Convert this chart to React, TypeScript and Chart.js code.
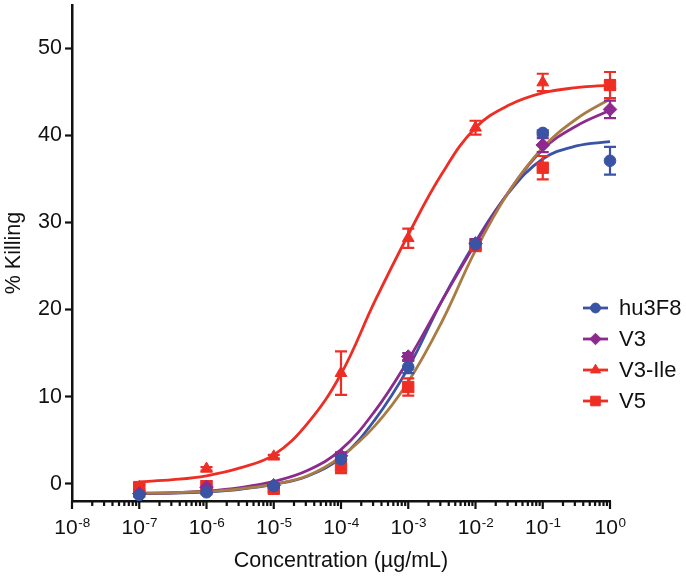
import { useEffect, useRef } from "react";
import { Chart, registerables } from "chart.js";
import { drawPoint } from "chart.js/helpers";

Chart.register(...registerables);

const FONT = '"Liberation Sans", Arial, sans-serif';
const INK = "#111";

// measured concentrations (µg/mL)
const concentrations = [1e-7, 1e-6, 1e-5, 1e-4, 1e-3, 1e-2, 1e-1, 1];

const hu3F8 = [-1.3, -1.0, -0.3, 2.8, 13.4, 27.5, 40.3, 37.1];
const hu3F8Err = [0.2, 0.2, 0.2, 0.4, 0.7, 0.5, 0.3, 1.6];
const v3 = [-1.15, -0.4, -0.2, 3.2, 14.6, 27.6, 38.9, 43.0];
const v3Err = [0.2, 0.7, 0.2, 0.4, 0.4, 0.5, 0.8, 1.0];
const v3Ile = [-0.4, 1.7, 3.1, 12.7, 28.2, 40.9, 46.1, 45.8];
const v3IleErr = [0.2, 0.2, 0.2, 2.5, 1.1, 0.8, 1.0, 0.5];
const v5 = [-0.4, -0.3, -0.6, 2.0, 11.1, 27.3, 36.3, 45.8];
const v5Err = [0.4, 0.3, 0.3, 0.8, 1.0, 0.5, 1.35, 1.5];

const fitX = [1e-7, 3.162e-7, 1e-6, 3.162e-6, 1e-5, 3.162e-5, 1e-4, 3.162e-4, 1e-3, 3.162e-3, 1e-2, 3.162e-2, 1e-1, 3.162e-1, 1];
const hu3F8Fit = [-1.15, -1.1, -0.95, -0.65, -0.1, 0.85, 3.0, 7.3, 13.3, 21.0, 27.8, 33.5, 37.3, 38.8, 39.3];
const v3Fit = [-1.1, -1.05, -0.85, -0.45, 0.25, 1.5, 3.9, 8.3, 14.2, 21.0, 27.6, 33.6, 38.4, 41.1, 42.9];
const v3IleFit = [0.2, 0.45, 0.9, 1.8, 3.3, 6.9, 12.6, 20.9, 28.6, 35.6, 40.9, 43.5, 44.9, 45.5, 45.8];
const v5Fit = [-1.1, -1.05, -0.9, -0.6, -0.05, 0.9, 3.1, 6.6, 11.7, 18.6, 26.8, 33.6, 38.6, 41.9, 44.2];

const yTicks = [0, 10, 20, 30, 40, 50];
const xDecades = [-8, -7, -6, -5, -4, -3, -2, -1, 0];

const BLUE = "#3a53a4";
const PURPLE = "#8c2a8e";
const RED = "#ee2e24";
const BROWN = "#a97c44";

const series = [
  { label: "hu3F8", color: BLUE, lineColor: BLUE, style: "circle", radius: 5.8, values: hu3F8, errors: hu3F8Err, fit: hu3F8Fit },
  { label: "V3", color: PURPLE, lineColor: PURPLE, style: "rectRot", radius: 6.8, values: v3, errors: v3Err, fit: v3Fit },
  { label: "V3-Ile", color: RED, lineColor: RED, style: "triangle", radius: 6.8, values: v3Ile, errors: v3IleErr, fit: v3IleFit },
  { label: "V5", color: RED, lineColor: BROWN, style: "rect", radius: 8, values: v5, errors: v5Err, fit: v5Fit },
];

// error bars go between the curves and the symbols
const errorBars = {
  id: "errorBars",
  afterDatasetDraw(chart: any, args: any) {
    if (args.index !== series.length) return;
    const { ctx, scales: { x, y } } = chart;
    ctx.save();
    ctx.lineWidth = 2.2;
    series.forEach((s) => {
      ctx.strokeStyle = s.color;
      concentrations.forEach((c, i) => {
        const px = x.getPixelForValue(c);
        const top = y.getPixelForValue(s.values[i] + s.errors[i]);
        const bot = y.getPixelForValue(s.values[i] - s.errors[i]);
        ctx.beginPath();
        ctx.moveTo(px, top);
        ctx.lineTo(px, bot);
        ctx.moveTo(px - 6, top);
        ctx.lineTo(px + 6, top);
        ctx.moveTo(px - 6, bot);
        ctx.lineTo(px + 6, bot);
        ctx.stroke();
      });
    });
    ctx.restore();
  },
};

// log ticks under the x axis with superscript labels
const logAxis = {
  id: "logAxis",
  afterDraw(chart: any) {
    const { ctx, chartArea, scales: { x } } = chart;
    const base = chartArea.bottom;
    ctx.save();
    ctx.strokeStyle = INK;
    ctx.lineWidth = 2.2;
    ctx.beginPath();
    xDecades.forEach((k) => {
      const px = x.getPixelForValue(Math.pow(10, k));
      ctx.moveTo(px, base);
      ctx.lineTo(px, base + 8);
      if (k < 0) {
        for (let m = 2; m <= 9; m++) {
          const mx = x.getPixelForValue(m * Math.pow(10, k));
          ctx.moveTo(mx, base);
          ctx.lineTo(mx, base + 5);
        }
      }
    });
    ctx.stroke();

    ctx.fillStyle = INK;
    ctx.textBaseline = "alphabetic";
    ctx.textAlign = "left";
    xDecades.forEach((k) => {
      const px = x.getPixelForValue(Math.pow(10, k));
      const exp = String(k);
      ctx.font = `21px ${FONT}`;
      const w1 = ctx.measureText("10").width;
      ctx.font = `13.5px ${FONT}`;
      const w2 = ctx.measureText(exp).width;
      const start = px - (w1 + w2) / 2;
      ctx.font = `21px ${FONT}`;
      ctx.fillText("10", start, base + 33);
      ctx.font = `13.5px ${FONT}`;
      ctx.fillText(exp, start + w1 + 0.5, base + 25.5);
    });
    ctx.restore();
  },
};

const lineLegend = {
  id: "lineLegend",
  afterDraw(chart: any) {
    const { ctx, chartArea } = chart;
    const left = chartArea.right - 27;
    const top = chartArea.top + 303;
    ctx.save();
    series.forEach((s, i) => {
      const cy = top + i * 31;
      ctx.strokeStyle = s.color;
      ctx.fillStyle = s.color;
      ctx.lineWidth = 2.8;
      ctx.beginPath();
      ctx.moveTo(left, cy);
      ctx.lineTo(left + 25, cy);
      ctx.stroke();
      ctx.lineWidth = 1;
      drawPoint(ctx, { pointStyle: s.style as any, radius: s.radius * 0.85, borderWidth: 1, rotation: 0 }, left + 12.5, cy);
      ctx.fillStyle = INK;
      ctx.font = `22px ${FONT}`;
      ctx.textBaseline = "middle";
      ctx.textAlign = "left";
      ctx.fillText(s.label, left + 36, cy + 1);
    });
    ctx.restore();
  },
};

const App = () => {
  const canvasRef = useRef<HTMLCanvasElement | null>(null);

  useEffect(() => {
    if (!canvasRef.current) return;
    Chart.defaults.font.family = FONT;

    const pointSets = series.map((s) => ({
      label: s.label,
      data: concentrations.map((c, i) => ({ x: c, y: s.values[i] })),
      showLine: false,
      pointStyle: s.style,
      pointRadius: s.radius,
      pointHoverRadius: s.radius,
      backgroundColor: s.color,
      borderColor: s.color,
      borderWidth: 1,
      clip: false as const,
    }));
    const curveSets = series.map((s) => ({
      label: s.label + " fit",
      data: fitX.map((c, i) => ({ x: c, y: s.fit[i] })),
      showLine: true,
      pointRadius: 0,
      borderColor: s.lineColor,
      borderWidth: 2.8,
      tension: 0.4,
      fill: false,
      clip: false as const,
    }));

    const chart = new Chart(canvasRef.current, {
      type: "scatter",
      data: { datasets: [...pointSets, ...curveSets.reverse()] as any },
      options: {
        animation: false,
        responsive: true,
        maintainAspectRatio: false,
        layout: { padding: { left: 0, top: 5, right: 76, bottom: 0 }, autoPadding: false },
        plugins: {
          legend: { display: false },
          tooltip: { enabled: false },
        },
        scales: {
          x: {
            type: "logarithmic",
            min: 1e-8,
            max: 1,
            afterFit: (scale: any) => {
              scale.height = 77;
              scale.paddingLeft = 0;
              scale.paddingRight = 0;
            },
            grid: { display: false },
            border: { display: true, color: INK, width: 2.5 },
            ticks: { display: false },
            title: {
              display: true,
              text: "Concentration (µg/mL)",
              color: INK,
              font: { family: FONT, size: 21.5 },
              padding: { top: 0, bottom: 4 },
            },
          },
          y: {
            min: -2,
            max: 55,
            afterBuildTicks: (scale: any) => {
              scale.ticks = yTicks.map((v) => ({ value: v }));
            },
            afterFit: (scale: any) => {
              scale.width = 72;
              scale.paddingTop = 0;
              scale.paddingBottom = 0;
            },
            grid: { display: true, drawOnChartArea: false, drawTicks: true, tickLength: 7, tickColor: INK, tickWidth: 2.2 },
            border: { display: true, color: INK, width: 2.5 },
            ticks: { color: INK, padding: 3, font: { family: FONT, size: 21.5 } },
            title: {
              display: true,
              text: "% Killing",
              color: INK,
              font: { family: FONT, size: 21.5 },
              padding: { top: 1, bottom: 0 },
            },
          },
        },
      },
      plugins: [errorBars, logAxis, lineLegend],
    });

    return () => {
      chart.destroy();
    };
  }, []);

  return (
    <div style={{ position: "absolute", left: 0, top: 0, width: 686, height: 578 }}>
      <canvas ref={canvasRef}></canvas>
    </div>
  );
};

export default App;
